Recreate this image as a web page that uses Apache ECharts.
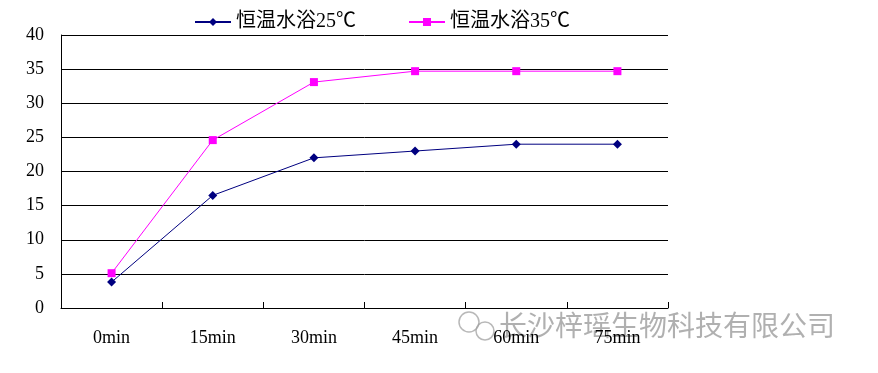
<!DOCTYPE html>
<html><head><meta charset="utf-8">
<script src="https://cdn.jsdelivr.net/npm/echarts@6/dist/echarts.min.js"></script>
<style>html,body{margin:0;padding:0;background:#fff}#c{width:878px;height:373px}</style>
</head><body><div id="c"></div>
<script>
const categories = ['0min','15min','30min','45min','60min','75min'];
const seriesNames = ['恒温水浴25℃','恒温水浴35℃'];
const values25 = [3.8, 16.5, 22.0, 23.0, 24.0, 24.0];
const values35 = [5.1, 24.6, 33.1, 34.7, 34.7, 34.7];
const yTicks = [0,5,10,15,20,25,30,35,40];
const watermark = '长沙梓瑶生物科技有限公司';

const font = '"Liberation Serif","Noto Sans CJK SC",serif';
const chart = echarts.init(document.getElementById('c'), null, {renderer:'canvas'});
chart.setOption({
  animation:false,
  backgroundColor:'#fff',
  legend:{
    left:189, top:7, itemWidth:36, itemHeight:10, itemGap:52,
    textStyle:{fontFamily:font, fontSize:20, color:'#000'},
    data:seriesNames
  },
  grid:{left:61, right:210, top:35, bottom:65, containLabel:false},
  xAxis:{
    type:'category', data:categories, boundaryGap:true,
    axisLine:{lineStyle:{color:'#000', width:1}},
    axisTick:{show:true, length:6, inside:true, lineStyle:{color:'#000'}},
    axisLabel:{margin:21, fontFamily:font, fontSize:18, color:'#000'}
  },
  yAxis:{
    type:'value', min:yTicks[0], max:yTicks[yTicks.length-1], interval:5,
    axisLine:{show:true, lineStyle:{color:'#000', width:1}},
    axisTick:{show:false},
    splitLine:{lineStyle:{color:'#000', width:1}},
    axisLabel:{margin:17, fontFamily:font, fontSize:18, color:'#000'}
  },
  series:[
    {name:seriesNames[0], type:'line', data:values25, symbol:'diamond', symbolSize:9,
     itemStyle:{color:'#000080'}, lineStyle:{color:'#000080', width:1}},
    {name:seriesNames[1], type:'line', data:values35, symbol:'rect', symbolSize:8,
     itemStyle:{color:'#FF00FF'}, lineStyle:{color:'#FF00FF', width:1}}
  ],
  graphic:[
    {type:'text', left:499, top:311, style:{text:watermark, fontFamily:'"Noto Sans CJK SC",sans-serif', fontSize:28, fill:'rgba(150,150,150,0.75)'}},
    {type:'circle', shape:{cx:469, cy:322, r:10}, style:{fill:'none', stroke:'rgba(160,160,160,0.75)', lineWidth:1.5}},
    {type:'circle', shape:{cx:485, cy:331, r:9}, style:{fill:'none', stroke:'rgba(160,160,160,0.75)', lineWidth:1.5}}
  ]
});
</script></body></html>
